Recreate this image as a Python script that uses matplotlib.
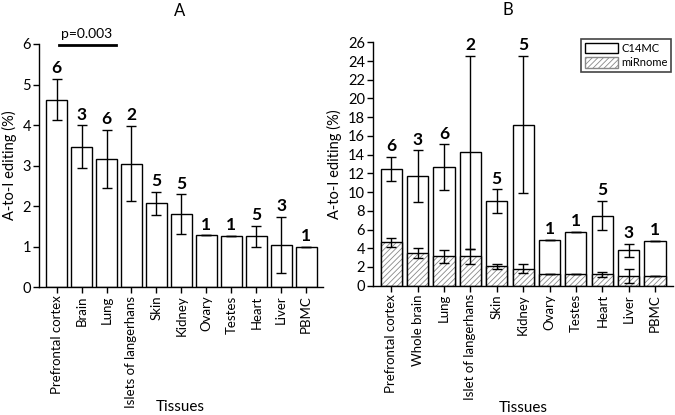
import numpy as np
import matplotlib
matplotlib.use('Agg')
import matplotlib.pyplot as plt
from matplotlib.patches import Patch

plt.rcParams['font.family'] = ['Lato', 'DejaVu Sans']
plt.rcParams['hatch.linewidth'] = 0.6

# Panel A data
tissues_a = ['Prefrontal cortex', 'Brain', 'Lung', 'Islets of langerhans', 'Skin', 'Kidney',
             'Ovary', 'Testes', 'Heart', 'Liver', 'PBMC']
mirnome = [4.63, 3.47, 3.16, 3.05, 2.07, 1.80, 1.28, 1.26, 1.26, 1.04, 1.00]
mirnome_err = [0.50, 0.52, 0.72, 0.93, 0.28, 0.49, 0, 0, 0.26, 0.70, 0]
counts = ['6', '3', '6', '2', '5', '5', '1', '1', '5', '3', '1']

# Panel B data
tissues_b = ['Prefrontal cortex', 'Whole brain', 'Lung', 'Islet of langerhans', 'Skin', 'Kidney',
             'Ovary', 'Testes', 'Heart', 'Liver', 'PBMC']
c14mc = [12.47, 11.71, 12.68, 14.23, 9.00, 17.19, 4.88, 5.73, 7.47, 3.77, 4.77]
c14mc_err = [1.30, 2.75, 2.42, 10.29, 1.28, 7.33, 0, 0, 1.55, 0.71, 0]
mirnome_b = [4.63, 3.45, 3.13, 3.13, 2.06, 1.81, 1.25, 1.25, 1.21, 1.03, 1.00]
mirnome_b_err = [0.50, 0.53, 0.72, 0.80, 0.30, 0.49, 0, 0, 0.25, 0.71, 0]

fig = plt.figure(figsize=(6.75, 4.15), dpi=100)
axA = fig.add_axes([0.058, 0.308, 0.42, 0.586])
axB = fig.add_axes([0.553, 0.3116, 0.444, 0.5864])

def style(ax):
    for s in ['top', 'right']:
        ax.spines[s].set_visible(False)
    for s in ['left', 'bottom']:
        ax.spines[s].set_linewidth(1.0)
    ax.tick_params(direction='out', length=4, width=1, pad=2)
    ax.tick_params(axis='y', labelsize=10.5)
    ax.tick_params(axis='x', labelsize=9.5)
    ax.set_ylabel('A-to-I editing (%)', fontsize=10.5)

x = np.arange(len(tissues_a))

# Panel A
axA.bar(x, mirnome, width=0.84, color='white', edgecolor='black', linewidth=1)
axA.errorbar(x, mirnome, yerr=mirnome_err, fmt='none', ecolor='black', elinewidth=1, capsize=3.5, capthick=1)
for xi, v, e, c in zip(x, mirnome, mirnome_err, counts):
    axA.annotate(c, (xi, v + e), xytext=(0, 2), textcoords='offset points',
                 ha='center', va='bottom', fontsize=12.5, fontweight='bold')
axA.set_xlim(-0.7, 10.66)
axA.set_ylim(0, 6)
axA.set_yticks(range(0, 7))
axA.set_xticks(x)
axA.set_xticklabels(tissues_a, rotation=90)
axA.plot([0.1, 2.38], [5.97, 5.97], color='black', lw=2, clip_on=False)
axA.text(1.2, 6.1, 'p=0.003', ha='center', va='bottom', fontsize=10)
style(axA)

# Panel B
axB.bar(x, c14mc, width=0.8, color='white', edgecolor='black', linewidth=1)
axB.bar(x, mirnome_b, width=0.8, color='white', edgecolor='#888888', hatch='//////', linewidth=0)
axB.bar(x, mirnome_b, width=0.8, fill=False, edgecolor='black', linewidth=1)
axB.errorbar(x, c14mc, yerr=c14mc_err, fmt='none', ecolor='black', elinewidth=1, capsize=3.5, capthick=1)
axB.errorbar(x, mirnome_b, yerr=mirnome_b_err, fmt='none', ecolor='black', elinewidth=1, capsize=3.5, capthick=1)
for xi, v, e, c in zip(x, c14mc, c14mc_err, counts):
    axB.annotate(c, (xi, v + e), xytext=(0, 2), textcoords='offset points',
                 ha='center', va='bottom', fontsize=12.5, fontweight='bold')
axB.set_xlim(-0.68, 10.68)
axB.set_ylim(0, 26)
axB.set_yticks(range(0, 27, 2))
axB.set_xticks(x)
axB.set_xticklabels(tissues_b, rotation=90)
handles = [Patch(facecolor='white', edgecolor='black', label='C14MC'),
           Patch(facecolor='white', edgecolor='#888888', hatch='//////', label='miRnome')]
leg = axB.legend(handles=handles, loc='upper right', bbox_to_anchor=(0.995, 1.015), fontsize=8,
                 fancybox=False, framealpha=1, edgecolor='#444444', handlelength=3.0, handleheight=1.1,
                 borderpad=0.35, labelspacing=0.3, handletextpad=0.3, borderaxespad=0.0)
leg.get_frame().set_linewidth(1.2)
style(axB)

# titles and x-axis labels placed in figure coordinates
fig.text(180 / 675, 1 - 11 / 415, 'A', ha='center', va='center', fontsize=12)
fig.text(508 / 675, 1 - 10 / 415, 'B', ha='center', va='center', fontsize=12)
fig.text(180 / 675, 1 - 407 / 415, 'Tissues', ha='center', va='center', fontsize=11)
fig.text(523 / 675, 1 - 408 / 415, 'Tissues', ha='center', va='center', fontsize=11)

fig.savefig('out.png', dpi=100)
